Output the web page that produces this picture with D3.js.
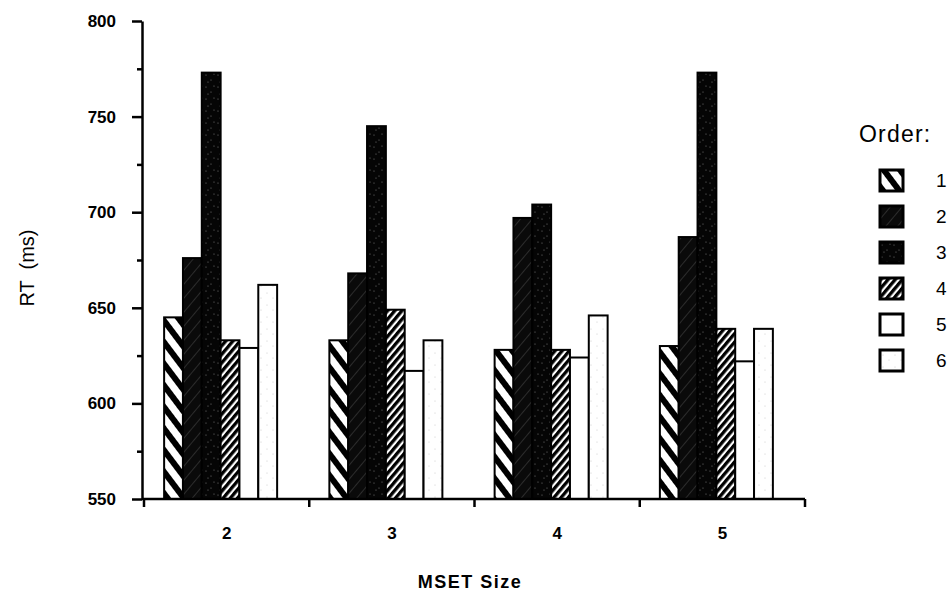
<!DOCTYPE html>
<html>
<head>
<meta charset="utf-8">
<script src="https://cdn.jsdelivr.net/npm/d3@7"></script>
<style>
  html, body { margin: 0; padding: 0; background: #fff; }
  svg { display: block; font-family: "Liberation Sans", Arial, Helvetica, sans-serif; }
</style>
</head>
<body>
<svg id="chart" width="948" height="601"></svg>
<script>
// MSET size groups along the x axis
var groups = ["2", "3", "4", "5"];
var orders = ["1", "2", "3", "4", "5", "6"];

// mean RT (ms) for each order, one value per MSET size
var order1 = [645, 633, 628, 630];
var order2 = [676, 668, 697, 687];
var order3 = [773, 745, 704, 773];
var order4 = [633, 649, 628, 639];
var order5 = [629, 617, 624, 622];
var order6 = [662, 633, 646, 639];

var yMajorTicks = [550, 600, 650, 700, 750, 800];
var yMinorTicks = [575, 625, 675, 725, 775];

var series = [order1, order2, order3, order4, order5, order6];

var svg = d3.select("#chart");
var defs = svg.append("defs");

// fill patterns, one per order
function stripes(id, angle, period, dark, bg, fg) {
    var p = defs.append("pattern")
        .attr("id", id)
        .attr("patternUnits", "userSpaceOnUse")
        .attr("width", period)
        .attr("height", period)
        .attr("patternTransform", "rotate(" + angle + ")");
    p.append("rect").attr("width", period).attr("height", period).attr("fill", bg);
    p.append("rect").attr("width", dark).attr("height", period).attr("fill", fg);
}

function speckle(id, dots, color) {
    var p = defs.append("pattern")
        .attr("id", id)
        .attr("patternUnits", "userSpaceOnUse")
        .attr("width", 12)
        .attr("height", 12);
    p.append("rect").attr("width", 12).attr("height", 12).attr("fill", color.bg);
    p.selectAll("circle")
        .data(dots)
        .join("circle")
        .attr("cx", d => d[0])
        .attr("cy", d => d[1])
        .attr("r", 0.6)
        .attr("fill", color.fg);
}

stripes("p1", -37, 13, 6, "#fff", "#000");
stripes("p2", 40, 9, 8.3, "#3a3a3a", "#0a0a0a");
speckle("p3", [[2, 3], [7, 8], [10, 2], [4, 10]], { bg: "#050505", fg: "#777" });
stripes("p4", 40, 5.5, 3.3, "#fff", "#000");
speckle("p5", [], { bg: "#fff", fg: "#fff" });
speckle("p6", [[3, 5], [9, 10]], { bg: "#fff", fg: "#ccc" });

var fills = ["url(#p1)", "url(#p2)", "url(#p3)", "url(#p4)", "url(#p5)", "url(#p6)"];

// scales
var x = d3.scaleBand().domain(groups).range([144, 805]);
var groupWidth = 113;
var xo = d3.scaleBand().domain(orders).range([0, groupWidth]);
var groupShift = (x.bandwidth() - groupWidth) / 2 - 6;
var y = d3.scaleLinear().domain([550, 800]).range([499, 21]);

// bars
var rows = [];
groups.forEach((g, gi) => {
    orders.forEach((o, oi) => {
        rows.push({ group: g, order: o, value: series[oi][gi], fill: fills[oi] });
    });
});

svg.append("g")
    .selectAll("rect")
    .data(rows)
    .join("rect")
    .attr("x", d => x(d.group) + groupShift + xo(d.order))
    .attr("y", d => y(d.value))
    .attr("width", xo.bandwidth())
    .attr("height", d => y(550) - y(d.value))
    .attr("fill", d => d.fill)
    .attr("stroke", "#000")
    .attr("stroke-width", 2);

// y axis
svg.append("g")
    .attr("transform", "translate(142,0)")
    .call(d3.axisLeft(y).tickValues(yMajorTicks).tickSize(10).tickSizeOuter(0).tickPadding(16))
    .call(g => g.select(".domain").attr("stroke-width", 2.5))
    .call(g => g.selectAll(".tick line").attr("stroke-width", 2.5))
    .call(g => g.selectAll(".tick text")
        .attr("font-size", 17)
        .attr("font-weight", "bold")
        .attr("fill", "#000"));

svg.append("g")
    .attr("transform", "translate(142,0)")
    .call(d3.axisLeft(y).tickValues(yMinorTicks).tickSize(5).tickFormat(""))
    .call(g => g.select(".domain").remove())
    .call(g => g.selectAll(".tick line").attr("stroke-width", 2.5));

// x axis: baseline with ticks at group boundaries, labels centred in each band
var edges = groups.map(g => x(g)).concat([x.range()[1]]);
svg.append("line")
    .attr("x1", 142).attr("x2", x.range()[1])
    .attr("y1", y(550)).attr("y2", y(550))
    .attr("stroke", "#000").attr("stroke-width", 2.5);

svg.append("g")
    .selectAll("line")
    .data(edges)
    .join("line")
    .attr("x1", d => d).attr("x2", d => d)
    .attr("y1", y(550)).attr("y2", y(550) + 8)
    .attr("stroke", "#000").attr("stroke-width", 2.5);

svg.append("g")
    .attr("transform", "translate(0," + y(550) + ")")
    .call(d3.axisBottom(x).tickSize(0).tickPadding(28))
    .call(g => g.select(".domain").remove())
    .call(g => g.selectAll(".tick text")
        .attr("font-size", 17)
        .attr("font-weight", "bold")
        .attr("fill", "#000"));

// axis titles
svg.append("text")
    .attr("transform", "translate(34,268) rotate(-90)")
    .attr("text-anchor", "middle")
    .attr("font-size", 20)
    .attr("xml:space", "preserve")
    .text("RT  (ms)");

svg.append("text")
    .attr("x", 470)
    .attr("y", 588)
    .attr("text-anchor", "middle")
    .attr("font-size", 18)
    .attr("font-weight", "bold")
    .attr("letter-spacing", 1.5)
    .text("MSET Size");

// legend
var legend = svg.append("g").attr("transform", "translate(859,0)");
legend.append("text")
    .attr("x", 0)
    .attr("y", 142)
    .attr("font-size", 23)
    .attr("letter-spacing", 1.2)
    .text("Order:");

var item = legend.selectAll("g.item")
    .data(orders)
    .join("g")
    .attr("class", "item")
    .attr("transform", (d, i) => "translate(21," + (170 + i * 36) + ")");

item.append("rect")
    .attr("width", 23)
    .attr("height", 21)
    .attr("fill", (d, i) => fills[i])
    .attr("stroke", "#000")
    .attr("stroke-width", 3);

item.append("text")
    .attr("x", 56)
    .attr("y", 17)
    .attr("font-size", 19)
    .text(d => d);
</script>
</body>
</html>
